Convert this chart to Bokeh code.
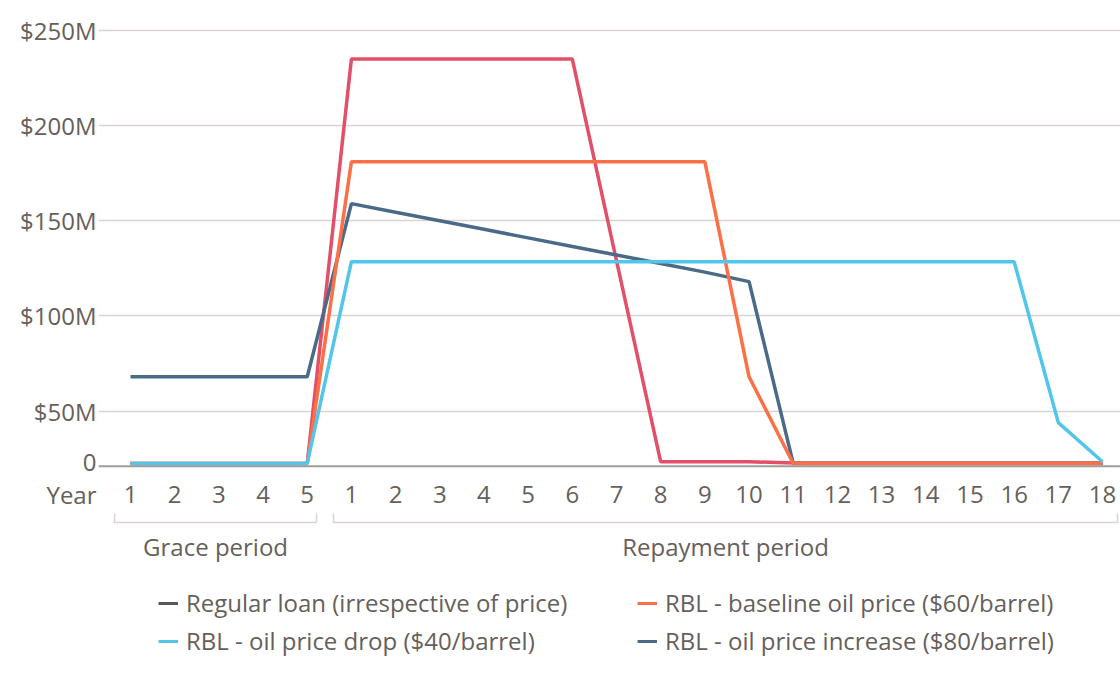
import math
from bokeh.plotting import figure
from bokeh.layouts import column
from bokeh.models import (Range1d, FixedTicker, CustomJSTickFormatter, CustomJSTransform,
                          ColumnDataSource, Legend, LegendItem, Span)
from bokeh.transform import transform
from bokeh.core.properties import value
from bokeh.embed import file_html
from bokeh.resources import INLINE

# ---------------- data (US$ millions per year) ----------------
grace_years = ["1", "2", "3", "4", "5"]
repay_years = [str(i) for i in range(1, 19)]
tick_labels = grace_years + repay_years

regular_loan = [68, 68, 68, 68, 68,
                159, 154.5, 150, 145.5, 141, 136.5, 132, 127.5, 123, 118,
                2.5, 2.5, 2.5, 2.5, 2.5, 2.5, 2.5, 2.5]
rbl_baseline = [2.5, 2.5, 2.5, 2.5, 2.5,
                181, 181, 181, 181, 181, 181, 181, 181, 181, 68,
                2.5, 2.5, 2.5, 2.5, 2.5, 2.5, 2.5, 2.5]
rbl_drop = [2.5, 2.5, 2.5, 2.5, 2.5,
            128.5, 128.5, 128.5, 128.5, 128.5, 128.5, 128.5, 128.5,
            128.5, 128.5, 128.5, 128.5, 128.5, 128.5, 128.5, 128.5,
            39.5, 4]
rbl_increase = [2.5, 2.5, 2.5, 2.5, 2.5,
                235, 235, 235, 235, 235, 235, 129, 4, 4, 4,
                3, 3, 3, 3, 3, 3, 3, 3]

y_ticks = [21, 50, 100, 150, 200, 250]
axis_title = "Year"
legend_labels = ["Regular loan (irrespective of price)", "RBL - baseline oil price ($60/barrel)",
                 "RBL - oil price drop ($40/barrel)", "RBL - oil price increase ($80/barrel)"]
period_labels = ["Grace period", "Repayment period"]

# ---------------- style ----------------
BG = "#ffe7e3"
TXT = "#66605c"
GRID = "#d9d3d1"
AXIS = "#a09b9b"
FONT = "Open Sans"
FS = "24px"
RED, ORANGE, SLATE, CYAN, DARK = "#e34f68", "#fd6f44", "#4b6a88", "#52c6ea", "#5b5858"
LW = 3.5

n = len(tick_labels)
xs = list(range(n))
X0, X1 = -0.7243, 22.4074          # main frame x extent (data units)
PX_PER_X = 1022 / (X1 - X0)
H1 = 477                           # height of the chart panel
H2 = 697 - H1                      # height of the lower panel

# broken lower segment of the value axis (0..50M compressed)
ytf = CustomJSTransform(
    args=dict(lo=50, base=21, k=0.58),
    func="return x >= lo ? x : base + x * k;",
    v_func="""
const out = new Array(xs.length);
for (let i = 0; i < xs.length; i++) { const v = xs[i]; out[i] = v >= lo ? v : base + v * k; }
return out;
""")

src = ColumnDataSource(dict(x=xs, reg=regular_loan, base=rbl_baseline,
                            drop=rbl_drop, inc=rbl_increase))

# ---------------- main chart ----------------
p = figure(width=1120, height=H1, output_backend="svg", toolbar_location=None,
           x_range=Range1d(X0, X1), y_range=Range1d(19.79, 255.26),
           x_axis_location=None, frame_align=False,
           min_border_left=98, min_border_right=0, min_border_top=20,
           min_border_bottom=H1 - 468,
           background_fill_alpha=0, border_fill_alpha=0, outline_line_color=None)

p.line("x", transform("inc", ytf), source=src, line_color=RED, line_width=LW)
p.line("x", transform("reg", ytf), source=src, line_color=SLATE, line_width=LW)
p.line("x", transform("base", ytf), source=src, line_color=ORANGE, line_width=LW)
p.line("x", transform("drop", ytf), source=src, line_color=CYAN, line_width=LW)

for g in p.xgrid:
    g.visible = False
p.ygrid.ticker = FixedTicker(ticks=y_ticks[1:])
p.ygrid.grid_line_color = GRID
p.ygrid.grid_line_width = 1.5
p.add_layout(Span(location=y_ticks[0], dimension="width", line_color=AXIS, line_width=2))

yax = p.yaxis[0]
yax.ticker = FixedTicker(ticks=y_ticks)
yax.formatter = CustomJSTickFormatter(code="return tick < 30 ? '0' : '$' + tick + 'M';")
yax.axis_line_color = None
yax.major_tick_line_color = None
yax.minor_tick_line_color = None
yax.major_tick_out = 0
yax.major_tick_in = 0
yax.major_label_standoff = 2
yax.major_label_text_font = FONT
yax.major_label_text_font_size = FS
yax.major_label_text_color = TXT

# ---------------- lower panel: year ticks, period brackets, legend ----------------
# y in this panel = pixels up from the bottom of the page
p2 = figure(width=1120, height=H2, output_backend="svg", toolbar_location=None,
            x_range=Range1d(X0 - 98 / PX_PER_X, X1), y_range=Range1d(0, H2),
            x_axis_location=None, y_axis_location=None, frame_align=False,
            min_border_left=0, min_border_right=0, min_border_top=0, min_border_bottom=0,
            background_fill_alpha=0, border_fill_alpha=0, outline_line_color=None)
p2.grid.visible = False

# year tick labels along the category positions
p2.text(x=xs, y=[203] * n, text=tick_labels, text_align="center", text_baseline="middle",
        text_font=value(FONT), text_font_size=FS, text_color=TXT)
p2.text(x=[X0 - 2 / PX_PER_X], y=[203], text=[axis_title], text_align="right",
        text_baseline="middle", text_font=value(FONT), text_font_size=FS, text_color=TXT)

g0, g1 = -0.36, len(grace_years) - 1 + 0.21
r0, r1 = len(grace_years) - 0.405, 22.34
p2.multi_line(xs=[[g0, g0, g1, g1], [r0, r0, r1, r1]],
              ys=[[184, 175, 175, 184], [184, 175, 175, 184]],
              line_color=GRID, line_width=1.5)
p2.text(x=[(g0 + g1) / 2, (r0 + r1) / 2], y=[151, 151], text=period_labels,
        text_align="center", text_baseline="middle", text_font=value(FONT),
        text_font_size=FS, text_color=TXT)

swatch = {legend_labels[0]: DARK, legend_labels[1]: ORANGE,
          legend_labels[2]: CYAN, legend_labels[3]: SLATE}
order = [legend_labels[0], legend_labels[2], legend_labels[1], legend_labels[3]]
items = []
for lab in order:
    r = p2.line(x=[math.nan], y=[math.nan], line_color=swatch[lab], line_width=3)
    items.append(LegendItem(label=lab, renderers=[r]))
leg = Legend(items=items, ncols=2, location=(158, 40), padding=0, margin=0,
             border_line_color=None, background_fill_alpha=0,
             glyph_width=20, glyph_height=20, label_standoff=8,
             label_width=446, label_height=27, spacing=5,
             label_text_font=FONT, label_text_font_size=FS, label_text_color=TXT)
p2.add_layout(leg, "center")

layout = column(p, p2, spacing=0)

html = file_html(layout, INLINE)
html = html.replace("<body>", '<body style="background-color:%s">' % BG, 1)
open("out.html", "w").write(html)
